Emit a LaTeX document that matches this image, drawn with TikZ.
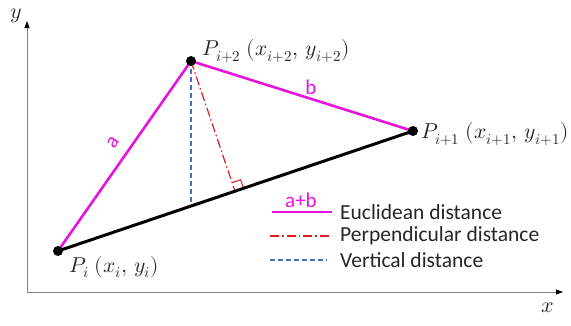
\documentclass[tikz,border=0pt]{standalone}
\usepackage{fontspec}
\usepackage{unicode-math}
\setmainfont{Carlito}
\setmathfont{Latin Modern Math}
\usetikzlibrary{calc,arrows.meta}
\definecolor{mag}{RGB}{230,20,220}
\definecolor{vblue}{RGB}{68,114,196}
\definecolor{pred}{RGB}{220,30,30}
\definecolor{axisgray}{RGB}{128,128,128}
\definecolor{txt}{RGB}{38,38,38}
\tikzset{
  axisline/.style={draw=axisgray,line width=0.8pt,-{Triangle[length=7pt,width=5pt,fill=black,color=black]}},
  euclid/.style={draw=mag,line width=2.6pt},
  seg/.style={draw=black,line width=3pt},
  vert/.style={draw=vblue,line width=1.2pt,dash pattern=on 5pt off 3pt},
  perp/.style={draw=pred,line width=1.2pt,dash pattern=on 9pt off 3pt on 1.5pt off 3pt},
  pt/.style={circle,fill=black,inner sep=0pt,minimum size=10pt},
  mlabel/.style={font=\fontsize{21.5}{25}\selectfont,inner sep=0pt,text=txt},
  maglabel/.style={inner sep=0pt,text=mag,font=\fontsize{21}{25}\selectfont},
  legtext/.style={font=\fontsize{21.5}{26}\selectfont,anchor=west,inner sep=0pt,text=txt},
  axlabel/.style={font=\fontsize{22}{26}\selectfont,inner sep=0pt,text=txt},
}
\begin{document}
\begin{tikzpicture}[x=1pt,y=-1pt]
\useasboundingbox (0,0) rectangle (571,325);
% axes
\coordinate (O) at (27,292);
\coordinate (Xend) at (563,292);
\coordinate (Yend) at (27,21);
\draw[axisline] (O) -- (Xend);
\draw[axisline] (O) -- (Yend);
\node[axlabel] (ylab) at (16,16) {$y$};
\node[axlabel] (xlab) at (548,308) {$x$};
% points
\coordinate (Pi) at (58,251);
\coordinate (P2) at (191,61);
\coordinate (P1) at (413,131);
% vertical and perpendicular distances
\path let \p1=(Pi), \p2=(P1), \p3=(P2) in coordinate (Vv) at (\x3,{\y1+(\y2-\y1)*(\x3-\x1)/(\x2-\x1)});
\draw[vert] (P2) -- (Vv);
\coordinate (F) at ($(Pi)!(P2)!(P1)$);
\draw[perp] (P2) -- (F);
\coordinate (Fu) at ($(F)!9pt!(P1)$);
\coordinate (Fw) at ($(F)!9pt!(P2)$);
\draw[pred,line width=1pt] (Fu) -- ($(Fu)+(Fw)-(F)$) -- (Fw);
% segments
\draw[seg] (Pi) -- (P1);
\draw[euclid] (Pi) -- node[pos=0.52,sloped,above=11pt,maglabel] (alab) {a} (P2);
\draw[euclid] (P2) -- node[pos=0.54,above=3pt,maglabel] (blab) {b} (P1);
% dots
\node[pt] (nPi) at (Pi) {};
\node[pt] (nP2) at (P2) {};
\node[pt] (nP1) at (P1) {};
% point labels
\node[mlabel,anchor=west] (lPi) at (69,267) {$P_i\;(x_i,\,y_i)$};
\node[mlabel,anchor=west] (lP2) at (202,51) {$P_{i+2}\;(x_{i+2},\,y_{i+2})$};
\node[mlabel,anchor=west] (lP1) at (421,134) {$P_{i+1}\;(x_{i+1},\,y_{i+1})$};
% legend
\coordinate (L1a) at (272,212); \coordinate (L1b) at (332,212);
\coordinate (L2a) at (270,236); \coordinate (L2b) at (330,236);
\coordinate (L3a) at (270,260); \coordinate (L3b) at (327,260);
\draw[euclid,line width=2.2pt] (L1a) -- (L1b);
\draw[perp] (L2a) -- (L2b);
\draw[vert] (L3a) -- (L3b);
\node[maglabel] (ab) at (301,200) {a+b};
\node[legtext] (t1) at (340,212) {Euclidean distance};
\node[legtext] (t2) at (340,236) {Perpendicular distance};
\node[legtext] (t3) at (340,260) {Vertical distance};
\end{tikzpicture}
\end{document}
